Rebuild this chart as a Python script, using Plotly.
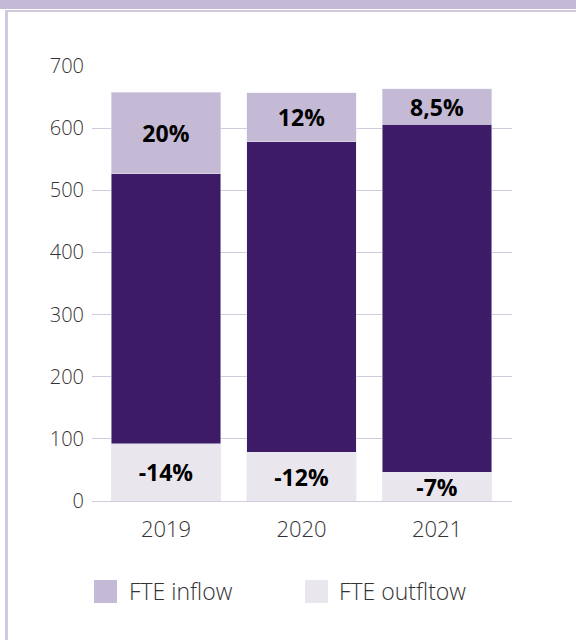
import plotly.graph_objects as go

# Full-time-equivalent headcount per year, with inflow/outflow shares of the total
years = ["2019", "2020", "2021"]
total_fte = [658, 657, 663]
inflow_share = [20, 12, 8.5]      # % of total
outflow_share = [14, 12, 7]       # % of total
y_ticks = [0, 100, 200, 300, 400, 500, 600, 700]

inflow = [t * s / 100 for t, s in zip(total_fte, inflow_share)]
outflow = [t * s / 100 for t, s in zip(total_fte, outflow_share)]
core = [t - i - o for t, i, o in zip(total_fte, inflow, outflow)]


def pct(v, sign=""):
    return sign + f"{v:g}".replace(".", ",") + "%"


C_IN = "#C5BAD5"
C_CORE = "#3D1B67"
C_OUT = "#EAE6EE"
C_GRID = "#D3CAE0"
FONT = "Open Sans"

W, H = 576, 640
ML, MR, MT, MB = 92, 64, 66, 139
PW, PH = W - ML - MR, H - MT - MB


def px(x):
    return (x - ML) / PW


def py(y):
    return (H - MB - y) / PH


label_font = dict(family=FONT, size=23, color="#000000", weight="bold")

fig = go.Figure()
fig.add_trace(go.Bar(
    x=years, y=outflow, name="FTE outfltow", marker_color=C_OUT,
    text=[pct(v, "-") for v in outflow_share], textposition="inside",
    insidetextanchor="middle", textangle=0, insidetextfont=label_font,
))
fig.add_trace(go.Bar(
    x=years, y=core, name="FTE", marker_color=C_CORE, showlegend=False,
))
fig.add_trace(go.Bar(
    x=years, y=inflow, name="FTE inflow", marker_color=C_IN,
    text=[pct(v) for v in inflow_share], textposition="inside",
    insidetextanchor="middle", textangle=0, insidetextfont=label_font,
))

shapes = [
    # header band and thin frame lines
    dict(type="rect", xref="paper", yref="paper", x0=px(0), x1=px(W), y0=py(0), y1=py(9),
         fillcolor=C_IN, line_width=0, layer="above"),
    dict(type="rect", xref="paper", yref="paper", x0=px(5), x1=px(W), y0=py(10), y1=py(12),
         fillcolor="#D2C8DF", line_width=0, layer="above"),
    dict(type="rect", xref="paper", yref="paper", x0=px(5), x1=px(8), y0=py(10), y1=py(H),
         fillcolor="#D2C8DF", line_width=0, layer="above"),
    # legend swatches
    dict(type="rect", xref="paper", yref="paper", x0=px(94), x1=px(117), y0=py(580), y1=py(603),
         fillcolor=C_IN, line_width=0),
    dict(type="rect", xref="paper", yref="paper", x0=px(305), x1=px(328), y0=py(580), y1=py(603),
         fillcolor=C_OUT, line_width=0),
]

legend_font = dict(family=FONT, size=23, color="#333333", weight=300)
annotations = [
    dict(text="FTE inflow", xref="paper", yref="paper", x=px(127), y=py(591),
         xanchor="left", yanchor="middle", showarrow=False, font=legend_font),
    dict(text="FTE outfltow", xref="paper", yref="paper", x=px(337), y=py(591),
         xanchor="left", yanchor="middle", showarrow=False, font=legend_font),
]

fig.update_layout(
    width=W, height=H,
    margin=dict(l=ML, r=MR, t=MT, b=MB, pad=0),
    barmode="stack", bargap=0.19,
    plot_bgcolor="white", paper_bgcolor="white",
    showlegend=False,
    uniformtext=dict(minsize=23, mode="show"),
    shapes=shapes, annotations=annotations,
    font=dict(family=FONT, color="#333333"),
)
fig.update_xaxes(
    type="category", range=[-0.546, 2.553],
    showgrid=False, showline=False, zeroline=False,
    ticks="outside", ticklen=9, tickcolor="rgba(0,0,0,0)",
    tickfont=dict(family=FONT, size=22, color="#333333", weight=300),
)
fig.update_yaxes(
    range=[0, 700], tickvals=y_ticks,
    showgrid=True, gridcolor=C_GRID, gridwidth=1.3,
    zeroline=True, zerolinecolor=C_GRID, zerolinewidth=1.3,
    showline=False, ticks="", ticklabelstandoff=7,
    tickfont=dict(family=FONT, size=20, color="#333333", weight=300),
)

fig.write_html("out.html")
